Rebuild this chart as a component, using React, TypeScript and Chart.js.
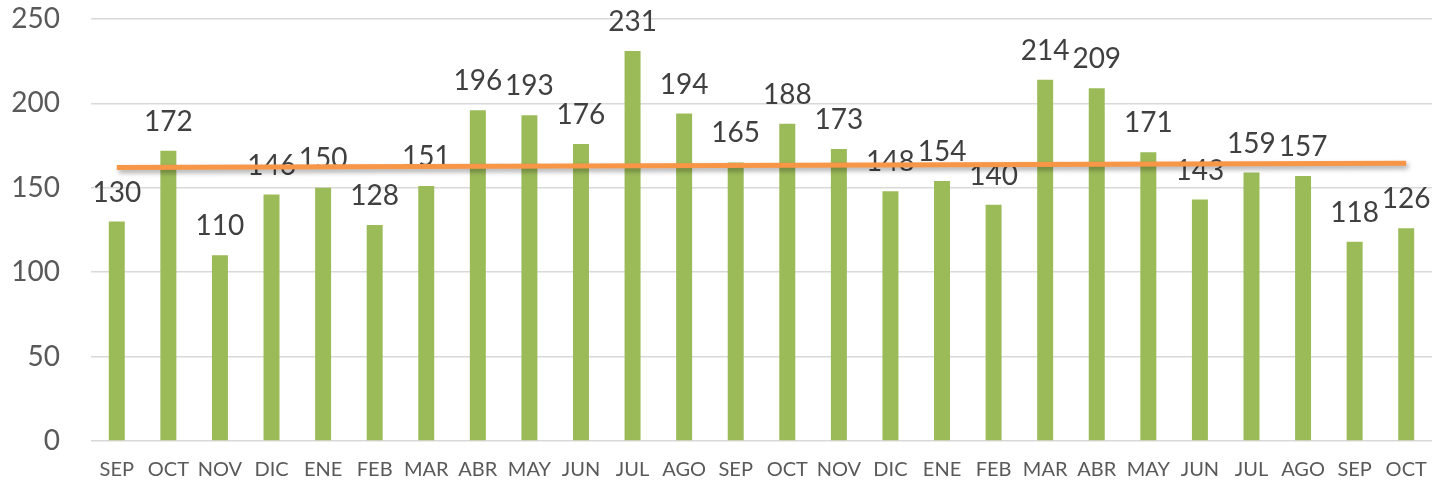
import React, { useEffect, useRef } from "react";
import { Chart, registerables } from "chart.js";

Chart.register(...registerables);

const categories = ["SEP", "OCT", "NOV", "DIC", "ENE", "FEB", "MAR", "ABR", "MAY", "JUN", "JUL", "AGO", "SEP", "OCT", "NOV", "DIC", "ENE", "FEB", "MAR", "ABR", "MAY", "JUN", "JUL", "AGO", "SEP", "OCT"];
const values = [130, 172, 110, 146, 150, 128, 151, 196, 193, 176, 231, 194, 165, 188, 173, 148, 154, 140, 214, 209, 171, 143, 159, 157, 118, 126];
// trend line endpoints, gaps spanned
const trend: (number | null)[] = [162.1, null, null, null, null, null, null, null, null, null, null, null, null, null, null, null, null, null, null, null, null, null, null, null, null, 164.5];
const yTicks = [0, 50, 100, 150, 200, 250];

const FONT = "Lato, 'Open Sans', sans-serif";

const labelPlugin = {
  id: "barLabels",
  afterDatasetDraw(chart: any, args: any) {
    if (args.index !== 0) return;
    const ctx = chart.ctx;
    const meta = chart.getDatasetMeta(0);
    ctx.save();
    ctx.font = `28px ${FONT}`;
    ctx.fillStyle = "#404040";
    ctx.textAlign = "center";
    ctx.textBaseline = "alphabetic";
    meta.data.forEach((bar: any, i: number) => {
      ctx.fillText(String(values[i]), bar.x, bar.y - 20);
    });
    ctx.restore();
  },
};

const shadowPlugin = {
  id: "lineShadow",
  beforeDatasetDraw(chart: any, args: any) {
    if (args.index !== 1) return;
    const ctx = chart.ctx;
    ctx.save();
    ctx.shadowColor = "rgba(0,0,0,0.35)";
    ctx.shadowBlur = 5;
    ctx.shadowOffsetX = 2;
    ctx.shadowOffsetY = 3;
  },
  afterDatasetDraw(chart: any, args: any) {
    if (args.index !== 1) return;
    chart.ctx.restore();
  },
};

export default function App() {
  const ref = useRef<HTMLCanvasElement | null>(null);
  useEffect(() => {
    document.body.style.margin = "0";
    const chart = new Chart(ref.current!, {
      type: "bar",
      data: {
        labels: categories,
        datasets: [
          {
            type: "bar",
            data: values,
            backgroundColor: "#9BBB59",
            barPercentage: 0.62,
            categoryPercentage: 0.5,
            order: 1,
          },
          {
            type: "line",
            data: trend,
            borderColor: "#F79646",
            borderWidth: 5,
            pointRadius: 0,
            spanGaps: true,
            tension: 0,
            order: 0,
            clip: false as any,
          },
        ],
      },
      options: {
        animation: false,
        responsive: false,
        maintainAspectRatio: false,
        layout: { padding: { top: 19, right: 2, left: 0, bottom: 0 } },
        plugins: { legend: { display: false }, tooltip: { enabled: false } },
        scales: {
          x: {
            grid: { display: false, drawTicks: false },
            border: { display: false },
            ticks: {
              color: "#595959",
              font: { family: FONT, size: 20 },
              padding: 17,
              maxRotation: 0,
              autoSkip: false,
            },
            afterFit: (s: any) => {
              s.height = 44;
              s.paddingLeft = 0;
              s.paddingRight = 0;
            },
          },
          y: {
            min: 0,
            max: 250,
            afterBuildTicks: (s: any) => {
              s.ticks = yTicks.map((v) => ({ value: v }));
            },
            grid: { color: "#D9D9D9", lineWidth: 1.5, drawTicks: false },
            border: { display: false },
            ticks: {
              color: "#595959",
              font: { family: FONT, size: 28 },
              padding: 31,
            },
            afterFit: (s: any) => {
              s.width = 91;
              s.paddingTop = 0;
              s.paddingBottom = 0;
            },
          },
        },
      },
      plugins: [labelPlugin, shadowPlugin],
    });
    return () => chart.destroy();
  }, []);
  return (
    <div style={{ position: "absolute", left: 0, top: 0, width: 1434, height: 485 }}>
      <canvas ref={ref} width={1434} height={485} style={{ width: 1434, height: 485 }} />
    </div>
  );
}
